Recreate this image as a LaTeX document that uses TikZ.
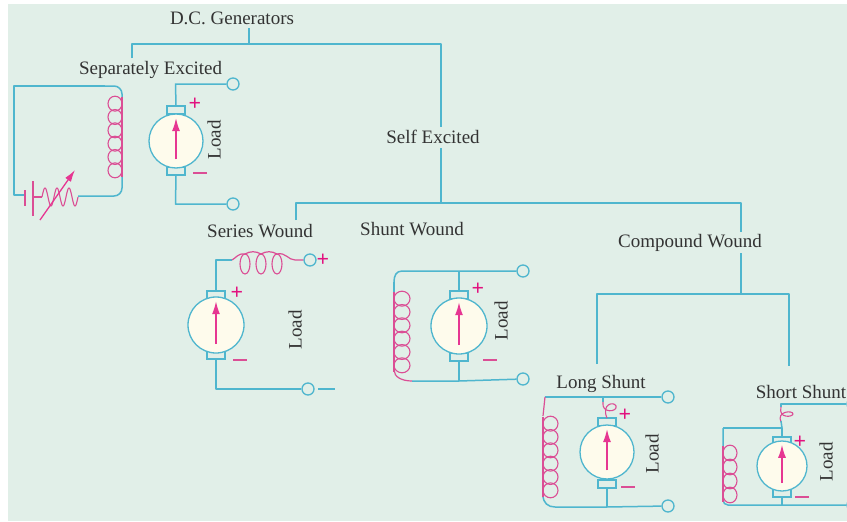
\documentclass[tikz,border=0pt]{standalone}
\usepackage{fontspec}
\setmainfont{Liberation Serif}
\usetikzlibrary{arrows.meta,calc}
\definecolor{panel}{HTML}{E1EFE8}
\definecolor{wire}{HTML}{4FB6CE}
\definecolor{mag}{HTML}{E2127F}
\definecolor{magl}{HTML}{DB4E95}
\definecolor{cream}{HTML}{FEFBEC}
\definecolor{ink}{HTML}{333333}
\tikzset{
  wirel/.style={draw=wire,line width=1.5pt,line join=round},
  coil/.style={draw=magl,line width=1.1pt},
  lead/.style={draw=magl,line width=1.2pt},
  lab/.style={text=ink,font=\fontsize{19}{21}\selectfont,inner sep=0pt},
  loadlab/.style={lab,rotate=90},
  sign/.style={text=mag,font=\bfseries\fontsize{22}{22}\selectfont,inner sep=0pt},
  term/.style={circle,draw=wire,line width=1.3pt,fill=panel,minimum size=12pt,inner sep=0pt},
  brush/.style={rectangle,draw=wire,line width=1.2pt,fill=panel,minimum width=18pt,minimum height=8pt,inner sep=0pt},
  genbody/.style={circle,draw=wire,line width=1.3pt,fill=cream,inner sep=0pt},
  genarrow/.style={draw=mag!85!white,line width=1.6pt,-{Latex[length=13pt,width=8pt]}},
  pl/.style={draw=magl,line width=1.6pt},
}
% #1 name, #2 x, #3 y, #4 radius, #5 top brush y, #6 bottom brush y
\newcommand{\genset}[6]{%
  \node[brush] (#1t) at (#2,#5) {};
  \node[brush] (#1b) at (#2,#6) {};
  \node[genbody,minimum size=2*#4 pt] (#1) at (#2,#3) {};
  \draw[genarrow] ($(#1.center)+(0,0.68*#4)$) -- ($(#1.center)+(0,-0.85*#4)$);
}
% vertical coil: #1 wire x, #2 top y, #3 bottom y, #4 turns, #5 width (positive: rings to the left)
\newcommand{\vcoil}[5]{%
  \foreach \i in {1,...,#4}{
    \draw[coil] ({#1-#5/2},{#2+(\i-0.5)*(#3-#2)/#4}) ellipse [x radius={abs(#5)/2}, y radius={0.56*(#3-#2)/#4}];
  }
  \draw[lead] (#1,#2) -- (#1,#3);
}
\newcommand{\minussign}[2]{\draw[pl] (#1-7,#2) -- (#1+7,#2);}
\begin{document}
\begin{tikzpicture}[x=1pt,y=-1pt]
\useasboundingbox (0,0) rectangle (847,522);
\fill[white] (0,0) rectangle (847,522);
\fill[panel] (8,4) rectangle (847,521);

% labels
\node[lab] (dc) at (232,18) {D.C. Generators};
\node[lab] (sep) at (150.5,70) {Separately Excited};
\node[lab] (self) at (433,137) {Self Excited};
\node[lab] (ser) at (260,231) {Series Wound};
\node[lab] (shu) at (412,229) {Shunt Wound};
\node[lab] (com) at (690,243) {Compound Wound};
\node[lab] (lon) at (601,384) {Long Shunt};
\node[lab] (sho) at (801,392) {Short Shunt};

% tree
\coordinate (t1) at (249,28);
\coordinate (t2) at (249,44);
\coordinate (t3) at (132,44);
\coordinate (t4) at (132,58);
\coordinate (t5) at (441,44);
\coordinate (t6) at (441,127);
\coordinate (t7) at (441,148);
\coordinate (t8) at (441,203);
\coordinate (t9) at (296,203);
\coordinate (t10) at (296,220);
\coordinate (t11) at (741,203);
\coordinate (t12) at (741,232);
\coordinate (t13) at (741,253);
\coordinate (t14) at (741,294);
\coordinate (t15) at (597,294);
\coordinate (t16) at (597,364);
\coordinate (t17) at (789,294);
\coordinate (t18) at (789,366);
\draw[wirel] (t1) -- (t2);
\draw[wirel] (t4) -- (t3) -- (t5) -- (t6);
\draw[wirel] (t7) -- (t8);
\draw[wirel] (t10) -- (t9) -- (t11) -- (t12);
\draw[wirel] (t13) -- (t14);
\draw[wirel] (t16) -- (t15) -- (t17) -- (t18);

% separately excited
\node[term] (a1) at (233,84) {};
\node[term] (a2) at (233,204) {};
\genset{ga}{176}{141}{27}{110}{171}
\coordinate (a3) at (175.5,84);
\coordinate (a4) at (175.5,204);
\draw[wirel] (gat.north) -- (a3) -- (a1);
\draw[wirel] (gab.south) -- (a4) -- (a2);
\node[sign] (ap) at (195,104) {+};
\minussign{200}{173}
\node[loadlab] (al) at (214,140) {Load};
\coordinate (f1) at (78,196);
\coordinate (f2) at (14,195);
\coordinate (f3) at (14,86);
\coordinate (f4) at (25,195);
\coordinate (f5) at (105,86);
\draw[wirel,rounded corners=8pt] (f1) -- (122,196) -- (122,86) -- (f5);
\draw[wirel] (f5) -- (f3) -- (f2) -- (f4);
\vcoil{122}{97}{177}{6}{14}
\draw[draw=magl,line width=1.6pt] (33,181) -- (33,216);
\draw[draw=magl,line width=1.6pt] (25,190) -- (25,206);
\draw[lead] (33,197) -- (42,197);
\draw[coil,smooth] plot[domain=0:1080,samples=73,variable=\t] ({42+\t/1080*36},{197-9*sin(\t)});
\draw[draw=mag!85!white,line width=1.3pt,-{Latex[length=12pt,width=7pt]}] (40,220) -- (75,170);

% series wound
\node[term] (b1) at (310,260) {};
\node[term] (b2) at (308,389) {};
\genset{gb}{216}{325}{28}{295}{355}
\coordinate (b3) at (216,260);
\coordinate (b4) at (232,260);
\coordinate (b5) at (216,389);
\coordinate (b6) at (335,389);
\coordinate (b7) at (318,389);
\draw[wirel] (gbt.north) -- (b3) -- (b4);
\draw[wirel] (gbb.south) -- (b5) -- (b2);
\draw[wirel] (b7) -- (b6);
\foreach \cx in {245,261,277}{
  \draw[coil] (\cx,264) ellipse [x radius=5, y radius=10];
}
\draw[lead] (b4) .. controls (236,258) and (238,253) .. (245,254)
  .. controls (250,251) and (256,251) .. (261,254)
  .. controls (266,251) and (272,251) .. (277,254)
  .. controls (286,252) and (288,260) .. (295,260) -- (b1.west);
\node[sign] (bp) at (323,260) {+};
\node[sign] (bq) at (237,293) {+};
\minussign{240}{360}
\node[loadlab] (bl) at (295,330) {Load};

% shunt wound
\node[term] (c1) at (523,271) {};
\node[term] (c2) at (523,379) {};
\genset{gc}{459}{326}{28}{295}{357}
\coordinate (c3) at (459,271);
\coordinate (c4) at (459,381);
\coordinate (c5) at (394,282);
\coordinate (c6) at (412,381);
\draw[wirel] (c5) .. controls (394,276) and (396,271) .. (402,271) -- (c3) -- (c1);
\draw[wirel] (c6) -- (c4) -- (c2);
\draw[wirel] (gct.north) -- (c3);
\draw[wirel] (gcb.south) -- (c4);
\draw[lead] (394,370) .. controls (394,377) and (402,381) .. (c6);
\vcoil{394}{292}{372}{6}{-16}
\draw[wirel] (c5) -- (394,292);
\node[sign] (cp) at (478,289) {+};
\minussign{490}{360}
\node[loadlab] (cl) at (501,321) {Load};

% long shunt
\node[term] (d1) at (668,397) {};
\node[term] (d2) at (668,506) {};
\genset{gd}{607}{452}{27}{422}{484}
\coordinate (d3) at (603,397);
\coordinate (d4) at (607,507);
\coordinate (d5) at (545,397);
\coordinate (d6) at (555,507);
\coordinate (d7) at (543,495);
\draw[wirel] (d5) -- (d3) -- (d1);
\draw[wirel] (d6) -- (d4) -- (d2);
\draw[wirel] (gdb.south) -- (d4);
\draw[wirel] (d3) -- (603,402);
\draw[coil] (603,402) .. controls (601,414) and (618,412) .. (616,406) .. controls (614,401) and (601,404) .. (607,418);
\draw[lead] (d5) -- (543,416);
\draw[wirel] (d7) .. controls (543,503) and (548,507) .. (d6);
\vcoil{543}{417}{497}{6}{-15}
\node[sign] (dp) at (625,415) {+};
\minussign{628}{487}
\node[loadlab] (dl) at (652,454) {Load};

% short shunt
\node[term] (e1) at (853,404) {};
\node[term] (e2) at (853,505) {};
\genset{ge}{782}{466}{25}{441}{493}
\coordinate (e3) at (781,404);
\coordinate (e4) at (782,428);
\coordinate (e5) at (723,428);
\coordinate (e6) at (723,505);
\coordinate (e7) at (782,505);
\draw[wirel] (e1) -- (e3) -- (781,407);
\draw[coil] (781,407) .. controls (778,419) and (793,417) .. (793,414) .. controls (793,410) and (776,411) .. (781,422);
\draw[wirel] (781,421) -- (e4);
\draw[wirel] (get.north) -- (e4) -- (e5);
\draw[wirel,rounded corners=5pt] (e5) -- (e6) -- (e2);
\draw[wirel] (geb.south) -- (e7);
\vcoil{723}{446}{502}{4}{-14}
\node[sign] (ep) at (800,442) {+};
\minussign{802}{497}
\node[loadlab] (el) at (826,462) {Load};
\end{tikzpicture}
\end{document}
